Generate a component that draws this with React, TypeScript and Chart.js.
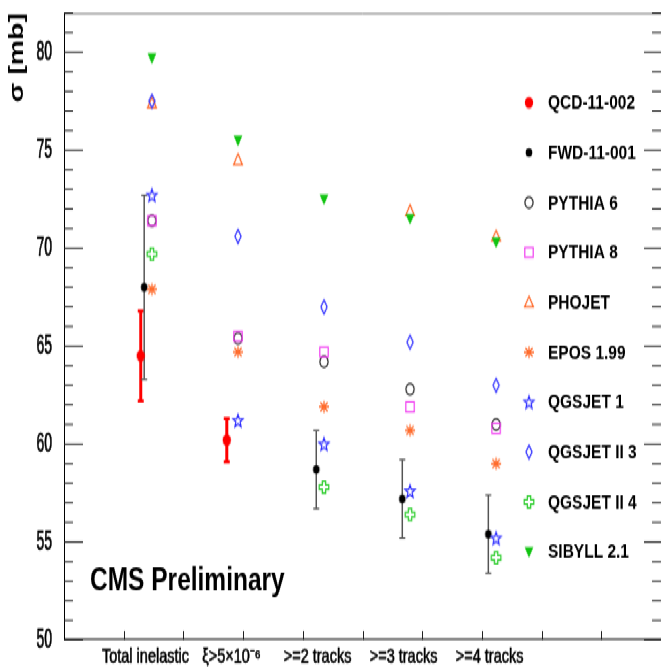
import React, { useEffect, useRef } from 'react';
import { Chart, registerables } from 'chart.js';

Chart.register(...registerables);

// ---------------- data ----------------
const CATEGORIES = ['Total inelastic', 'ξ>5×10⁻⁶', '>=2 tracks', '>=3 tracks', '>=4 tracks'];

const QCD_11_002 = [64.5, 60.2, null, null, null];
const QCD_11_002_ERR = [2.3, 1.1, null, null, null];
const FWD_11_001 = [68.0, null, 58.7, 57.2, 55.4];
const FWD_11_001_ERR = [4.7, null, 2.0, 2.0, 2.0];
const PYTHIA_6 = [71.4, 65.4, 64.2, 62.8, 61.0];
const PYTHIA_8 = [71.4, 65.5, 64.7, 61.9, 60.8];
const PHOJET = [77.4, 74.5, null, 71.9, 70.6];
const EPOS_1_99 = [67.9, 64.7, 61.9, 60.7, 59.0];
const QGSJET_1 = [72.7, 61.2, 60.0, 57.6, 55.2];
const QGSJET_II_3 = [77.5, 70.6, 67.0, 65.2, 63.0];
const QGSJET_II_4 = [69.7, null, 57.8, 56.4, 54.2];
const SIBYLL_2_1 = [79.7, 75.5, 72.5, 71.5, 70.3];

const Y_MIN = 50;
const Y_MAX = 82;
const Y_MAJOR_STEP = 5;
const Y_MINOR_STEP = 1;
const Y_TITLE = 'σ [mb]';
const WATERMARK = 'CMS Preliminary';

// ---------------- layout / style ----------------
const W = 667;
const H = 491;
const STRETCH = 668 / H;
const X_MIN = -1.022;
const X_MAX = 5.917;
const X_BINS = 10;
const LABEL_SHIFT = -0.075;

const SANS = '"Liberation Sans", Arial, Helvetica, sans-serif';

const RED = '#ff0000';
const ORANGE = '#ff6a2a';
const BLUE = '#2b2bff';
const MAGENTA = '#f03cf0';
const GREEN_FILL = '#10c410';
const GREEN_LINE = '#2ccc2c';

type Ctx = CanvasRenderingContext2D;

function makeMarker(draw: (c: Ctx) => void): HTMLCanvasElement {
  const cv = document.createElement('canvas');
  cv.width = 16;
  cv.height = 16;
  const c = cv.getContext('2d') as Ctx;
  c.translate(8, 8);
  c.lineJoin = 'miter';
  draw(c);
  return cv;
}

function poly(c: Ctx, pts: number[][]) {
  c.beginPath();
  pts.forEach((p, i) => (i ? c.lineTo(p[0], p[1]) : c.moveTo(p[0], p[1])));
  c.closePath();
}

const MARKER_DRAW: Record<string, (c: Ctx) => void> = {
  bigDot: (c) => {
    c.fillStyle = RED;
    c.beginPath();
    c.arc(0, 0, 4.2, 0, Math.PI * 2);
    c.fill();
  },
  dot: (c) => {
    c.fillStyle = '#000';
    c.beginPath();
    c.arc(0, 0, 3.3, 0, Math.PI * 2);
    c.fill();
  },
  openCircle: (c) => {
    c.strokeStyle = '#222';
    c.lineWidth = 1.2;
    c.beginPath();
    c.arc(0, 0, 4.1, 0, Math.PI * 2);
    c.stroke();
  },
  openSquare: (c) => {
    c.strokeStyle = MAGENTA;
    c.lineWidth = 1.2;
    c.strokeRect(-4.2, -3.6, 8.4, 7.2);
  },
  openTriangle: (c) => {
    c.strokeStyle = ORANGE;
    c.lineWidth = 1.2;
    poly(c, [[0, -4.6], [4.4, 3.4], [-4.4, 3.4]]);
    c.stroke();
  },
  asterisk: (c) => {
    c.strokeStyle = ORANGE;
    c.lineWidth = 1.3;
    c.beginPath();
    c.moveTo(0, -4.4); c.lineTo(0, 4.4);
    c.moveTo(-5, 0); c.lineTo(5, 0);
    c.moveTo(-3.6, -3.3); c.lineTo(3.6, 3.3);
    c.moveTo(-3.6, 3.3); c.lineTo(3.6, -3.3);
    c.stroke();
  },
  openStar: (c) => {
    c.strokeStyle = BLUE;
    c.lineWidth = 1.2;
    const pts: number[][] = [];
    for (let k = 0; k < 10; k++) {
      const a = -Math.PI / 2 + (k * Math.PI) / 5;
      const r = k % 2 === 0 ? 5.2 : 2.2;
      pts.push([r * Math.cos(a), r * Math.sin(a) * 0.95 + 0.4]);
    }
    poly(c, pts);
    c.stroke();
  },
  openDiamond: (c) => {
    c.strokeStyle = BLUE;
    c.lineWidth = 1.2;
    poly(c, [[0, -5.1], [3.1, 0], [0, 5.1], [-3.1, 0]]);
    c.stroke();
  },
  openCross: (c) => {
    c.strokeStyle = GREEN_LINE;
    c.lineWidth = 1.2;
    const a = 1.7, bx = 4.8, by = 4.4;
    poly(c, [[-a, -by], [a, -by], [a, -a], [bx, -a], [bx, a], [a, a], [a, by], [-a, by], [-a, a], [-bx, a], [-bx, -a], [-a, -a]]);
    c.stroke();
  },
  downTriangle: (c) => {
    c.fillStyle = GREEN_FILL;
    poly(c, [[-4.4, -3.4], [4.4, -3.4], [0, 4.6]]);
    c.fill();
  },
};

interface Series {
  label: string;
  values: (number | null)[];
  marker: string;
  shift: number;
  errors?: (number | null)[];
  bar?: { color: string; width: number; capW: number; capH: number };
}

const SERIES: Series[] = [
  { label: 'QCD-11-002', values: QCD_11_002, marker: 'bigDot', shift: -0.13, errors: QCD_11_002_ERR, bar: { color: RED, width: 3, capW: 6, capH: 2.4 } },
  { label: 'FWD-11-001', values: FWD_11_001, marker: 'dot', shift: -0.09, errors: FWD_11_001_ERR, bar: { color: '#555', width: 1.5, capW: 6, capH: 1.2 } },
  { label: 'PYTHIA 6', values: PYTHIA_6, marker: 'openCircle', shift: 0 },
  { label: 'PYTHIA 8', values: PYTHIA_8, marker: 'openSquare', shift: 0 },
  { label: 'PHOJET', values: PHOJET, marker: 'openTriangle', shift: 0 },
  { label: 'EPOS 1.99', values: EPOS_1_99, marker: 'asterisk', shift: 0 },
  { label: 'QGSJET 1', values: QGSJET_1, marker: 'openStar', shift: 0 },
  { label: 'QGSJET II 3', values: QGSJET_II_3, marker: 'openDiamond', shift: 0 },
  { label: 'QGSJET II 4', values: QGSJET_II_4, marker: 'openCross', shift: 0 },
  { label: 'SIBYLL 2.1', values: SIBYLL_2_1, marker: 'downTriangle', shift: 0 },
];

const LEGEND_MARK_X = 529;
const LEGEND_TEXT_X = 548;
const LEGEND_Y0 = 102.7 / STRETCH;
const LEGEND_STEP = 49.9 / STRETCH;

export default function App() {
  const ref = useRef<HTMLCanvasElement | null>(null);

  useEffect(() => {
    if (!ref.current) return;
    const markers: Record<string, HTMLCanvasElement> = {};
    Object.keys(MARKER_DRAW).forEach((k) => (markers[k] = makeMarker(MARKER_DRAW[k])));

    const line = (ctx: Ctx, x1: number, y1: number, x2: number, y2: number) => {
      ctx.beginPath();
      ctx.moveTo(x1, y1);
      ctx.lineTo(x2, y2);
      ctx.stroke();
    };

    const framePlugin = {
      id: 'frame',
      beforeDatasetsDraw(chart: any) {
        const { ctx, chartArea: a, scales } = chart;
        const xs = scales.x;
        const ys = scales.y;
        ctx.save();
        ctx.lineWidth = 1;
        ctx.strokeStyle = '#777';
        line(ctx, a.left, a.top + 0.5, a.right, a.top + 0.5);
        ctx.strokeStyle = '#000';
        line(ctx, a.left + 0.5, a.top, a.left + 0.5, a.bottom);
        line(ctx, a.left, a.bottom - 0.5, a.right, a.bottom - 0.5);
        ctx.strokeStyle = '#222';
        for (let v = Y_MIN; v <= Y_MAX; v += Y_MINOR_STEP) {
          const py = ys.getPixelForValue(v);
          const major = v % Y_MAJOR_STEP === 0;
          const len = major ? 19 : 9;
          line(ctx, a.left, py, a.left + len, py);
          line(ctx, a.right, py, a.right - (major ? 17 : 9), py);
        }
        for (let k = 1; k < X_BINS; k++) {
          const px = Math.round(xs.getPixelForValue(X_MIN + ((X_MAX - X_MIN) * k) / X_BINS)) + 0.5;
          line(ctx, px, a.bottom, px, a.bottom - 6.6);
        }
        // y tick labels (condensed, as in the original)
        ctx.fillStyle = '#000';
        ctx.strokeStyle = '#000';
        ctx.lineWidth = 0.6;
        ctx.textAlign = 'right';
        ctx.textBaseline = 'middle';
        ctx.font = `19.5px ${SANS}`;
        ys.ticks.forEach((t: any) => {
          const py = ys.getPixelForValue(t.value);
          ctx.save();
          ctx.translate(a.left - 12, py + 0.5);
          ctx.scale(0.72, 1);
          ctx.fillText(String(t.value), 0, 0);
          ctx.strokeText(String(t.value), 0, 0);
          ctx.restore();
        });
        ctx.restore();
      },
    };

    const errorPlugin = {
      id: 'errorBars',
      beforeDatasetsDraw(chart: any) {
        const { ctx, scales } = chart;
        const xs = scales.x;
        const ys = scales.y;
        ctx.save();
        SERIES.forEach((s) => {
          if (!s.errors || !s.bar) return;
          s.values.forEach((v, i) => {
            const e = s.errors![i];
            if (v == null || e == null) return;
            const px = xs.getPixelForValue(i + s.shift);
            const top = ys.getPixelForValue(v + e);
            const bot = ys.getPixelForValue(v - e);
            ctx.strokeStyle = s.bar!.color;
            ctx.fillStyle = s.bar!.color;
            ctx.lineWidth = s.bar!.width;
            line(ctx, px, top, px, bot);
            const cw = s.bar!.capW;
            const ch = s.bar!.capH;
            ctx.fillRect(px - cw / 2, top - ch / 2, cw, ch);
            ctx.fillRect(px - cw / 2, bot - ch / 2, cw, ch);
          });
        });
        ctx.restore();
      },
    };

    const overlayPlugin = {
      id: 'overlay',
      afterDatasetsDraw(chart: any) {
        const { ctx } = chart;
        ctx.save();
        ctx.fillStyle = '#000';
        ctx.textBaseline = 'middle';
        ctx.textAlign = 'left';
        ctx.font = `bold 15.5px ${SANS}`;
        SERIES.forEach((s, k) => {
          const y = LEGEND_Y0 + k * LEGEND_STEP;
          const m = markers[s.marker];
          ctx.drawImage(m, LEGEND_MARK_X - m.width / 2, y - m.height / 2);
          ctx.fillText(s.label, LEGEND_TEXT_X, y + 0.5);
        });
        ctx.textBaseline = 'alphabetic';
        ctx.font = `bold 24.5px ${SANS}`;
        ctx.fillText(WATERMARK, 90, 590 / STRETCH);
        ctx.restore();
      },
    };

    const datasets = SERIES.map((s, k) => ({
      label: s.label,
      data: s.values
        .map((v, i) => (v == null ? null : { x: i + s.shift, y: v }))
        .filter((p) => p !== null),
      pointStyle: markers[s.marker],
      pointRadius: 5,
      pointHoverRadius: 5,
      showLine: false,
      order: SERIES.length - k,
    }));

    const chart = new Chart(ref.current, {
      type: 'scatter',
      data: { datasets } as any,
      plugins: [framePlugin, errorPlugin, overlayPlugin],
      options: {
        animation: false,
        responsive: false,
        devicePixelRatio: 1,
        layout: { padding: { top: 13 / STRETCH, left: 0, right: 0, bottom: 0 } },
        plugins: { legend: { display: false }, tooltip: { enabled: false } },
        events: [],
        scales: {
          x: {
            type: 'linear',
            min: X_MIN,
            max: X_MAX,
            grid: { display: false, drawTicks: false },
            border: { display: false },
            afterBuildTicks: (scale: any) => {
              scale.ticks = CATEGORIES.map((_, i) => ({ value: i + LABEL_SHIFT }));
            },
            afterFit: (scale: any) => {
              scale.height = H - 640 / STRETCH;
              scale.paddingLeft = 0;
              scale.paddingRight = 0;
            },
            ticks: {
              autoSkip: false,
              maxRotation: 0,
              padding: 4,
              color: '#000',
              textStrokeColor: '#000',
              textStrokeWidth: 0.5,
              font: { family: SANS, size: 14.5 },
              callback: (_v: any, idx: number) => CATEGORIES[idx],
            },
          },
          y: {
            type: 'linear',
            min: Y_MIN,
            max: Y_MAX,
            grid: { display: false, drawTicks: false },
            border: { display: false },
            afterFit: (scale: any) => {
              scale.width = 64;
              scale.paddingTop = 0;
              scale.paddingBottom = 0;
            },
            ticks: {
              stepSize: Y_MAJOR_STEP,
              includeBounds: false,
              display: false,
            },
            title: {
              display: true,
              text: Y_TITLE,
              align: 'end',
              color: '#000',
              font: { family: SANS, size: 21, weight: 'bold' },
              padding: { top: 4.4, bottom: 0 },
            },
          },
        },
      } as any,
    });
    return () => chart.destroy();
  }, []);

  return (
    <div
      style={{
        position: 'absolute',
        left: 0,
        top: 0,
        width: W,
        height: H,
        transform: `scaleY(${STRETCH})`,
        transformOrigin: '0 0',
        background: '#fff',
      }}
    >
      <canvas ref={ref} width={W} height={H} style={{ display: 'block' }} />
    </div>
  );
}
